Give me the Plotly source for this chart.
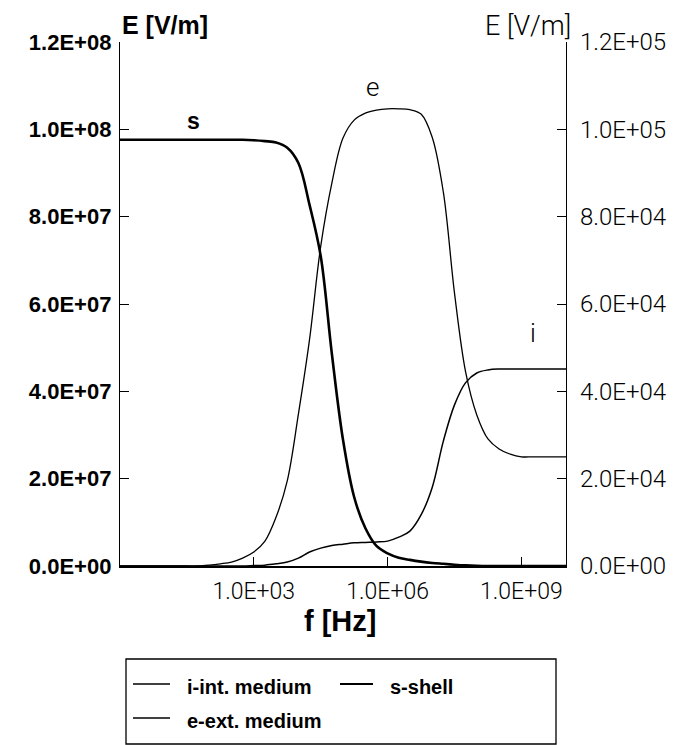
import plotly.graph_objects as go

# ---------------- data ----------------
# common frequency grid, log10(f / Hz)
logf = [0.0, 0.25, 0.5, 0.75, 1.0, 1.25, 1.5, 1.75, 2.0, 2.25, 2.5, 2.75, 3.0, 3.25,
        3.5, 3.75, 4.0, 4.25, 4.5, 4.75, 5.0, 5.25, 5.5, 5.75, 6.0, 6.25, 6.5, 6.75,
        7.0, 7.25, 7.5, 7.75, 8.0, 8.25, 8.5, 8.75, 9.0, 9.25, 9.5, 9.75, 10.0]

# s - shell (left axis, V/m)
s_val = [9.76e7, 9.76e7, 9.76e7, 9.76e7, 9.76e7, 9.76e7, 9.76e7, 9.76e7, 9.76e7, 9.76e7,
         9.76e7, 9.76e7, 9.75e7, 9.73e7, 9.70e7, 9.58e7, 9.23e7, 8.27e7, 7.10e7, 4.86e7,
         2.89e7, 1.58e7, 0.87e7, 0.46e7, 0.29e7, 0.19e7, 0.14e7, 0.10e7, 0.07e7, 0.05e7,
         0.03e7, 0.015e7, 0.005e7, 0.0, 0.0, 0.0, 0.0, 0.0, 0.0, 0.0, 0.0]

# e - external medium (right axis, V/m)
e_val = [0, 0, 0, 0, 0, 0, 0, 0, 200, 500, 900, 1800, 3200, 5700, 11200, 19500, 34800,
         51900, 73200, 87700, 98000, 102100, 103700, 104400, 104700, 104700, 104500,
         103500, 98200, 85600, 62500, 44400, 34600, 29100, 26800, 25600, 25000, 25000,
         25000, 25000, 25000]

# i - internal medium (right axis, V/m)
i_val = [0, 0, 0, 0, 0, 0, 0, 0, 0, 0, 0, 0, 100, 200, 500, 900, 1800, 3200, 4100, 4700,
         5000, 5300, 5400, 5500, 5700, 6600, 8000, 11700, 18000, 28600, 36900, 42000,
         44200, 44900, 45100, 45100, 45100, 45100, 45100, 45100, 45100]

x_tickvals = [1e3, 1e6, 1e9]
x_ticktext = ["1.0E+03", "1.0E+06", "1.0E+09"]
yl_tickvals = [0, 2e7, 4e7, 6e7, 8e7, 1e8, 1.2e8]
yl_ticktext = ["0.0E+00", "2.0E+07", "4.0E+07", "6.0E+07", "8.0E+07", "1.0E+08", "1.2E+08"]
yr_tickvals = [0, 2e4, 4e4, 6e4, 8e4, 1e5, 1.2e5]
yr_ticktext = ["0.0E+00", "2.0E+04", "4.0E+04", "6.0E+04", "8.0E+04", "1.0E+05", "1.2E+05"]

legend_labels = ["i-int. medium", "s-shell", "e-ext. medium"]

# ---------------- layout geometry ----------------
OFF = 8                      # page body margin
W, H = 685 - OFF, 745 - OFF
L, T = 120 - OFF, 42 - OFF
R = W - (566 - OFF)
B = H - (566 - OFF)
PW, PH = W - L - R, H - T - B


def px(x):   # page pixel -> paper x
    return (x - OFF - L) / PW


def py(y):   # page pixel -> paper y
    return (H - B - (y - OFF)) / PH


BOLD = "Liberation Sans, Arial, sans-serif"
LIGHT = "Roboto, Liberation Sans, sans-serif"

f = [10 ** v for v in logf]

fig = go.Figure()
fig.add_trace(go.Scatter(x=f, y=s_val, mode="lines",
                         line=dict(color="black", width=2.6, shape="spline", smoothing=1.0),
                         name="s-shell", yaxis="y", showlegend=False))
fig.add_trace(go.Scatter(x=f, y=e_val, mode="lines",
                         line=dict(color="black", width=1.3, shape="spline", smoothing=1.0),
                         name="e-ext. medium", yaxis="y2", showlegend=False))
fig.add_trace(go.Scatter(x=f, y=i_val, mode="lines",
                         line=dict(color="black", width=1.5, shape="spline", smoothing=1.0),
                         name="i-int. medium", yaxis="y2", showlegend=False))

fig.update_layout(
    width=W, height=H,
    margin=dict(l=L, r=R, t=T, b=B),
    paper_bgcolor="white", plot_bgcolor="white",
    xaxis=dict(type="log", range=[0, 10], tickvals=x_tickvals, ticktext=x_ticktext,
               ticks="inside", ticklen=9, tickwidth=1.2, tickcolor="black",
               showline=True, linecolor="black", linewidth=2, showgrid=False,
               zeroline=False, ticklabelstandoff=3,
               tickfont=dict(family=LIGHT, size=23, color="black", weight=300)),
    yaxis=dict(range=[0, 1.2e8], tickvals=yl_tickvals, ticktext=yl_ticktext,
               ticks="inside", ticklen=9, tickwidth=1.2, tickcolor="black",
               showline=True, linecolor="black", linewidth=1.3, showgrid=False,
               zeroline=False, ticklabelstandoff=3,
               tickfont=dict(family=BOLD, size=22, color="black", weight="bold")),
    yaxis2=dict(range=[0, 1.2e5], tickvals=yr_tickvals, ticktext=yr_ticktext,
                overlaying="y", side="right",
                ticks="inside", ticklen=9, tickwidth=1.2, tickcolor="black",
                showline=True, linecolor="black", linewidth=1.3, showgrid=False,
                zeroline=False, ticklabelstandoff=8,
                tickfont=dict(family=LIGHT, size=24, color="black", weight=300)),
)

ann = []
# axis titles
ann.append(dict(text="E [V/m]", xref="paper", yref="paper", x=px(120), y=py(25),
                xanchor="left", yanchor="middle", showarrow=False,
                font=dict(family=BOLD, size=25, color="black", weight="bold")))
ann.append(dict(text="E [V/m]", xref="paper", yref="paper", x=px(573), y=py(26),
                xanchor="right", yanchor="middle", showarrow=False,
                font=dict(family=LIGHT, size=27, color="black", weight=300)))
ann.append(dict(text="f [Hz]", xref="paper", yref="paper", x=px(340), y=py(621),
                xanchor="center", yanchor="middle", showarrow=False,
                font=dict(family=BOLD, size=29, color="black", weight="bold")))
# curve labels
ann.append(dict(text="s", xref="x", yref="y", x=1.65, y=1.019e8, showarrow=False,
                font=dict(family=BOLD, size=23, color="black", weight="bold")))
ann.append(dict(text="e", xref="x", yref="y2", x=5.66, y=1.097e5, showarrow=False,
                font=dict(family=LIGHT, size=26, color="black", weight=300)))
ann.append(dict(text="i", xref="x", yref="y2", x=9.25, y=5.34e4, showarrow=False,
                font=dict(family=LIGHT, size=26, color="black", weight=300)))

# legend box (manual)
shapes = [dict(type="rect", xref="paper", yref="paper", x0=px(126), x1=px(556),
               y0=py(744), y1=py(659), line=dict(color="black", width=1.3))]
legend_items = [(legend_labels[0], 133, 170, 185, 687, 1.3),
                (legend_labels[1], 340, 373, 388, 687, 2.2),
                (legend_labels[2], 133, 170, 185, 721, 1.3)]
for lab, lx0, lx1, tx, yy, lw in legend_items:
    shapes.append(dict(type="line", xref="paper", yref="paper", x0=px(lx0), x1=px(lx1),
                       y0=py(yy - 3), y1=py(yy - 3), line=dict(color="black", width=lw)))
    ann.append(dict(text=lab, xref="paper", yref="paper", x=px(tx), y=py(yy),
                    xanchor="left", yanchor="middle", showarrow=False,
                    font=dict(family=BOLD, size=20, color="black", weight="bold")))

fig.update_layout(annotations=ann, shapes=shapes)
fig.write_html("out.html")
